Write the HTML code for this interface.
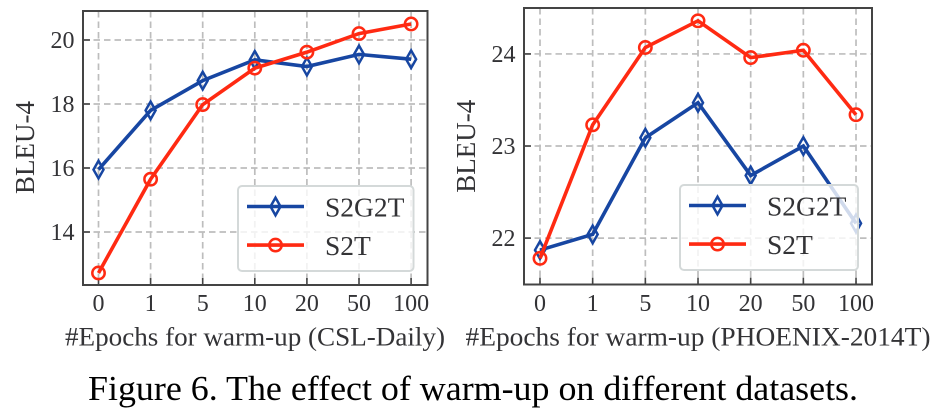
<!DOCTYPE html>
<html lang="en">
<head>
<meta charset="utf-8">
<title>Figure 6</title>
<style>
html,body{margin:0;padding:0;background:#fff;width:936px;height:410px;overflow:hidden}
svg{display:block;font-family:"Liberation Serif",serif;filter:blur(0.35px)}
</style>
</head>
<body>
<svg id="fig" width="936" height="410" viewBox="0 0 936 410" xmlns="http://www.w3.org/2000/svg">
<text x="473" y="400" font-size="35" text-anchor="middle" fill="#000" textLength="770" lengthAdjust="spacingAndGlyphs">Figure 6. The effect of warm-up on different datasets.</text>
</svg>
<script>
const categories = ["0", "1", "5", "10", "20", "50", "100"];
const seriesNames = ["S2G2T", "S2T"];
const cslS2G2T = [15.95, 17.8, 18.73, 19.38, 19.17, 19.55, 19.4];
const cslS2T = [12.72, 15.65, 17.98, 19.12, 19.62, 20.2, 20.5];
const cslTicks = [14, 16, 18, 20];
const phoenixS2G2T = [21.87, 22.04, 23.09, 23.47, 22.68, 23.0, 22.16];
const phoenixS2T = [21.78, 23.23, 24.07, 24.36, 23.96, 24.04, 23.34];
const phoenixTicks = [22, 23, 24];
const csl = {
  key: "csl", label: "#Epochs for warm-up (CSL-Daily)",
  left: 83, right: 427.5, top: 11, bottom: 285,
  x0: 98.5, xStep: 52.1, yMin: 12.344, yMax: 20.906,
  ticks: cslTicks, a: cslS2G2T, b: cslS2T,
  legendX: 238, legendY: 186, legendW: 175.5, legendH: 85,
  labelX: 255, labelW: 380, yTitleX: 34, yTitleY: 147.5
};
const phoenix = {
  key: "phoenix", label: "#Epochs for warm-up (PHOENIX-2014T)",
  left: 524, right: 872, top: 8, bottom: 284.5,
  x0: 540, xStep: 52.67, yMin: 21.496, yMax: 24.499,
  ticks: phoenixTicks, a: phoenixS2G2T, b: phoenixS2T,
  legendX: 680, legendY: 185, legendW: 178, legendH: 85,
  labelX: 698, labelW: 465, yTitleX: 475, yTitleY: 146.3
};
const NS = "http://www.w3.org/2000/svg";
const BLUE = "#1746a2";
const RED = "#ff2a12";
const INK = "#333336";
const svg = document.getElementById("fig");

function make(parent, tag, attrs, text) {
  const el = document.createElementNS(NS, tag);
  for (const k in attrs) el.setAttribute(k, attrs[k]);
  if (text !== undefined) el.textContent = text;
  parent.appendChild(el);
  return el;
}
function diamond(parent, cx, cy) {
  const el = make(parent, "polygon", {
    points: (cx - 5) + "," + cy + " " + cx + "," + (cy - 8.8) + " " + (cx + 5) + "," + cy + " " + cx + "," + (cy + 8.8),
    fill: "none", stroke: BLUE, "stroke-width": 2.5
  });
  
  
}
function circle(parent, cx, cy) {
  const el = make(parent, "circle", { cx: cx, cy: cy, r: 6.2, fill: "none", stroke: RED, "stroke-width": 2.5 });
  
  
}
function drawPanel(p) {
  const xPos = i => p.x0 + i * p.xStep;
  const yPos = v => p.bottom - (v - p.yMin) / (p.yMax - p.yMin) * (p.bottom - p.top);
  const g = make(svg, "g", {});
  
  

  categories.forEach((c, i) => {
    const x = xPos(i);
    const grid = make(g, "line", { x1: x, x2: x, y1: p.top, y2: p.bottom, stroke: "#bdbdbd", "stroke-width": 1.7, "stroke-dasharray": "6.5 4" });
    
    
    const tick = make(g, "line", { x1: x, x2: x, y1: p.bottom - 7, y2: p.bottom, stroke: "#444", "stroke-width": 1.6 });
    
    
    const lab = make(g, "text", { x: x, y: 311, "font-size": 24, "text-anchor": "middle", fill: INK }, c);
    
    
  });
  p.ticks.forEach(t => {
    const y = yPos(t);
    const grid = make(g, "line", { x1: p.left, x2: p.right, y1: y, y2: y, stroke: "#bdbdbd", "stroke-width": 1.7, "stroke-dasharray": "6.5 4" });
    
    
    const tick = make(g, "line", { x1: p.left, x2: p.left + 7, y1: y, y2: y, stroke: "#444", "stroke-width": 1.6 });
    
    
    const lab = make(g, "text", { x: p.left - 8.5, y: y + 8, "font-size": 24, "text-anchor": "end", fill: INK }, String(t));
    
    
  });

  const lineA = make(g, "polyline", { points: p.a.map((v, i) => xPos(i) + "," + yPos(v)).join(" "), fill: "none", stroke: BLUE, "stroke-width": 3.6 });
  
  
  p.a.forEach((v, i) => diamond(g, xPos(i), yPos(v)));
  const lineB = make(g, "polyline", { points: p.b.map((v, i) => xPos(i) + "," + yPos(v)).join(" "), fill: "none", stroke: RED, "stroke-width": 3.6 });
  
  
  p.b.forEach((v, i) => circle(g, xPos(i), yPos(v)));

  const frame = make(g, "rect", { x: p.left, y: p.top, width: p.right - p.left, height: p.bottom - p.top, fill: "none", stroke: "#444", "stroke-width": 2 });
  
  

  const leg = make(g, "g", {});
  
  
  const box = make(leg, "rect", { x: p.legendX, y: p.legendY, width: p.legendW, height: p.legendH, rx: 4, fill: "rgba(255,255,255,0.8)", stroke: "#d4d9d9", "stroke-width": 2 });
  
  
  seriesNames.forEach((n, i) => {
    const ly = p.legendY + 20.5 + i * 38.6;
    const x1 = p.legendX + 9;
    const ln = make(leg, "line", { x1: x1, x2: x1 + 57, y1: ly, y2: ly, stroke: i ? RED : BLUE, "stroke-width": 3.6 });
    
    
    if (i) circle(leg, x1 + 28.5, ly); else diamond(leg, x1 + 28.5, ly);
    const t = make(leg, "text", { x: x1 + 78, y: ly + 10, "font-size": 27.5, fill: INK }, n);
    
    
  });

  const yTitle = make(g, "text", { x: 0, y: 0, transform: "translate(" + p.yTitleX + "," + p.yTitleY + ") rotate(-90)", "font-size": 27, "text-anchor": "middle", fill: INK }, "BLEU-4");
  
  
  const xTitle = make(g, "text", { x: p.labelX, y: 345.5, "font-size": 26.5, "text-anchor": "middle", fill: INK, textLength: p.labelW, lengthAdjust: "spacingAndGlyphs" }, p.label);
  
  
}
drawPanel(csl);
drawPanel(phoenix);
</script>
</body>
</html>
